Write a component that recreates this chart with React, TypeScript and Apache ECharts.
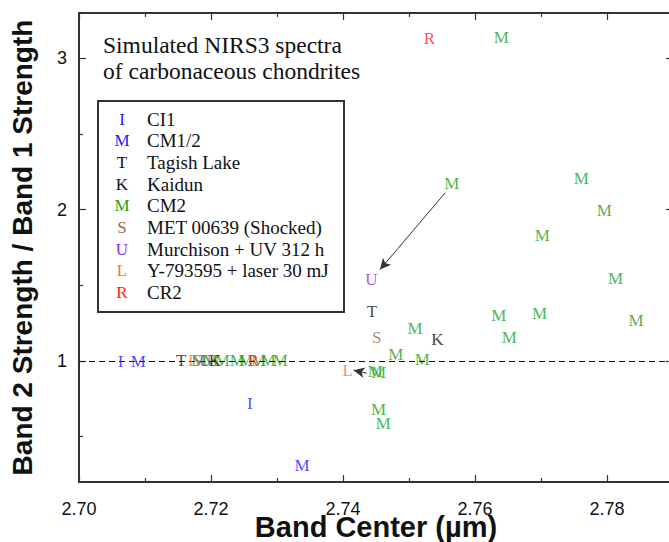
import React, { useEffect, useRef } from "react";
import * as echarts from "echarts";

// ---- Data ----
const seriesNames = [
  "CI1",
  "CM1/2",
  "Tagish Lake",
  "Kaidun",
  "CM2",
  "MET 00639 (Shocked)",
  "Murchison + UV 312 h",
  "Y-793595 + laser 30 mJ",
  "CR2",
];
const seriesLetters = ["I", "M", "T", "K", "M", "S", "U", "L", "R"];
const seriesColors = [
  "#1a1aff",
  "#1a1aff",
  "#111111",
  "#111111",
  "#1ca21c",
  "#a06e55",
  "#8a2be2",
  "#f07a22",
  "#ff2020",
];

const ci1 = [
  [2.7063, 0.995],
  [2.7259, 0.721],
];
const cm12 = [
  [2.709, 0.995],
  [2.7338, 0.308],
];
const tagishLake = [
  [2.7155, 1.0],
  [2.7444, 1.33],
];
const kaidun = [
  [2.7206, 1.0],
  [2.7543, 1.143],
];
const cm2 = [
  [2.764, 3.138],
  [2.7565, 2.171],
  [2.7761, 2.209],
  [2.7796, 1.995],
  [2.7702, 1.829],
  [2.7813, 1.543],
  [2.7636, 1.303],
  [2.7698, 1.314],
  [2.7844, 1.27],
  [2.7509, 1.216],
  [2.7652, 1.154],
  [2.748, 1.042],
  [2.752, 1.007],
  [2.7449, 0.93],
  [2.7454, 0.924],
  [2.7454, 0.677],
  [2.7461, 0.589],
  [2.7182, 1.0],
  [2.7199, 1.0],
  [2.7217, 1.0],
  [2.724, 1.0],
  [2.7253, 1.0],
  [2.7272, 1.0],
  [2.7287, 1.0],
  [2.7305, 1.0],
];
const met00639 = [
  [2.7178, 1.0],
  [2.7451, 1.154],
];
const murchisonUV = [
  [2.7191, 1.0],
  [2.7443, 1.539],
];
const y793595 = [
  [2.7173, 1.0],
  [2.7407, 0.939],
];
const cr2 = [
  [2.7264, 1.0],
  [2.7531, 3.132],
];
const allData = [ci1, cm12, tagishLake, kaidun, cm2, met00639, murchisonUV, y793595, cr2];

// arrows: [from, to]
const arrowUV = [
  [2.7555, 2.112],
  [2.7456, 1.604],
];
const arrowLaser = [
  [2.7436, 0.919],
  [2.7416, 0.939],
];

const xMajorTicks = [2.7, 2.72, 2.74, 2.76, 2.78];
const xMinorTicks = [2.71, 2.73, 2.75, 2.77];
const yMajorTicks = [1, 2, 3];
const yMinorTicks = [0.5, 1.5, 2.5];
const insetTitle = "Simulated NIRS3 spectra\nof carbonaceous chondrites";
const xTitle = "Band Center (\u00b5m)";
const yTitle = "Band 2 Strength / Band 1 Strength";

const X_MIN = 2.7;
const X_MAX = 2.79;
const Y_MIN = 0.2;
const Y_MAX = 3.3;

const SANS = "Liberation Sans, Arial, sans-serif";
const SERIF = "Liberation Serif, Times New Roman, serif";
const AXIS_COLOR = "#333";

function makeXAxis(position: string, ticks: number[], len: number, labels: boolean, extra: any = {}) {
  return {
    type: "value",
    position,
    min: X_MIN,
    max: X_MAX,
    splitLine: { show: false },
    axisLine: { show: true, onZero: false, lineStyle: { color: AXIS_COLOR, width: 2 } },
    axisTick: { show: true, inside: true, length: len, customValues: ticks, lineStyle: { color: AXIS_COLOR, width: 1.2 } },
    axisLabel: labels
      ? {
          show: true,
          customValues: ticks,
          formatter: (v: number) => v.toFixed(2),
          fontFamily: SANS,
          fontSize: 18,
          color: "#111",
          margin: 18,
        }
      : { show: false },
    ...extra,
  };
}

function makeYAxis(position: string, ticks: number[], len: number, labels: boolean, extra: any = {}) {
  return {
    type: "value",
    position,
    min: Y_MIN,
    max: Y_MAX,
    splitLine: { show: false },
    axisLine: { show: true, onZero: false, lineStyle: { color: AXIS_COLOR, width: 2 } },
    axisTick: { show: true, inside: true, length: len, customValues: ticks, lineStyle: { color: AXIS_COLOR, width: 1.2 } },
    axisLabel: labels
      ? {
          show: true,
          customValues: ticks,
          formatter: (v: number) => String(v),
          fontFamily: SANS,
          fontSize: 18,
          color: "#111",
          margin: 12,
        }
      : { show: false },
    ...extra,
  };
}

export default function App() {
  const ref = useRef<HTMLDivElement>(null);

  useEffect(() => {
    if (!ref.current) return;
    const chart = echarts.init(ref.current, null, { renderer: "svg" });

    const series: any[] = allData.map((d, i) => ({
      type: "scatter",
      name: seriesNames[i],
      xAxisIndex: 0,
      yAxisIndex: 0,
      data: d,
      symbol: "circle",
      symbolSize: 1,
      itemStyle: { color: "rgba(0,0,0,0)" },
      silent: true,
      z: i === 4 ? 4 : 5,
      label: {
        show: true,
        position: "inside",
        formatter: seriesLetters[i],
        color: seriesColors[i],
        fontFamily: SERIF,
        fontSize: 17,
      },
      emphasis: { disabled: true },
    }));

    // dashed reference line at y = 1 and arrows
    series.push({
      type: "line",
      xAxisIndex: 0,
      yAxisIndex: 0,
      data: [],
      silent: true,
      markLine: {
        silent: true,
        symbol: ["none", "none"],
        label: { show: false },
        lineStyle: { color: "#111", type: [6, 4], width: 1 },
        data: [{ yAxis: 1 }],
      },
    });
    series.push({
      type: "line",
      xAxisIndex: 0,
      yAxisIndex: 0,
      data: [],
      silent: true,
      markLine: {
        silent: true,
        symbol: ["none", "arrow"],
        symbolSize: [8, 11],
        label: { show: false },
        lineStyle: { color: "#333", type: "solid", width: 1 },
        data: [
          [{ coord: arrowUV[0] }, { coord: arrowUV[1] }],
          [{ coord: arrowLaser[0] }, { coord: arrowLaser[1] }],
        ],
      },
    });

    const legendTop = 119;
    const legendStep = 21.7;
    const legendElems: any[] = [
      {
        type: "rect",
        shape: { x: 98, y: 101, width: 246, height: 211 },
        style: { fill: "#fff", stroke: "#333", lineWidth: 2 },
        z: 10,
      },
    ];
    seriesNames.forEach((name, i) => {
      legendElems.push({
        type: "text",
        x: 122,
        y: legendTop + i * legendStep,
        style: {
          text: seriesLetters[i],
          fill: seriesColors[i],
          font: `17px ${SERIF}`,
          textAlign: "center",
          textVerticalAlign: "middle",
        },
        z: 11,
      });
      legendElems.push({
        type: "text",
        x: 147,
        y: legendTop + i * legendStep,
        style: {
          text: name,
          fill: "#111",
          font: `19px ${SERIF}`,
          textAlign: "left",
          textVerticalAlign: "middle",
        },
        z: 11,
      });
    });
    legendElems.push({
      type: "text",
      x: 103,
      y: 32,
      style: {
        text: insetTitle,
        fill: "#111",
        font: `23.5px ${SERIF}`,
        lineHeight: 26,
        textAlign: "left",
        textVerticalAlign: "top",
      },
      z: 11,
    });

    chart.setOption({
      animation: false,
      backgroundColor: "#fff",
      grid: { left: 79, top: 13, right: 7, bottom: 60, containLabel: false, outerBoundsMode: "none" },
      xAxis: [
        makeXAxis("bottom", xMajorTicks, 7, true, {
          name: xTitle,
          nameLocation: "middle",
          nameGap: 30,
          nameMoveOverlap: false,
          nameTextStyle: { fontFamily: SANS, fontSize: 29, fontWeight: "bold", color: "#111" },
        }),
        makeXAxis("bottom", xMinorTicks, 4, false),
        makeXAxis("top", xMajorTicks, 7, false),
        makeXAxis("top", xMinorTicks, 4, false),
      ],
      yAxis: [
        makeYAxis("left", yMajorTicks, 7, true, {
          name: yTitle,
          nameLocation: "middle",
          nameGap: 43,
          nameTextStyle: { fontFamily: SANS, fontSize: 28, fontWeight: "bold", color: "#111" },
        }),
        makeYAxis("left", yMinorTicks, 4, false),
        makeYAxis("right", yMajorTicks, 7, false),
        makeYAxis("right", yMinorTicks, 4, false),
      ],
      series,
      graphic: legendElems,
    });

    return () => {
      chart.dispose();
    };
  }, []);

  return (
    <div
      style={{
        position: "fixed",
        left: 0,
        top: 0,
        width: 669,
        height: 542,
        overflow: "hidden",
        background: "#fff",
      }}
    >
      <div ref={ref} style={{ width: 680, height: 542 }} />
    </div>
  );
}
